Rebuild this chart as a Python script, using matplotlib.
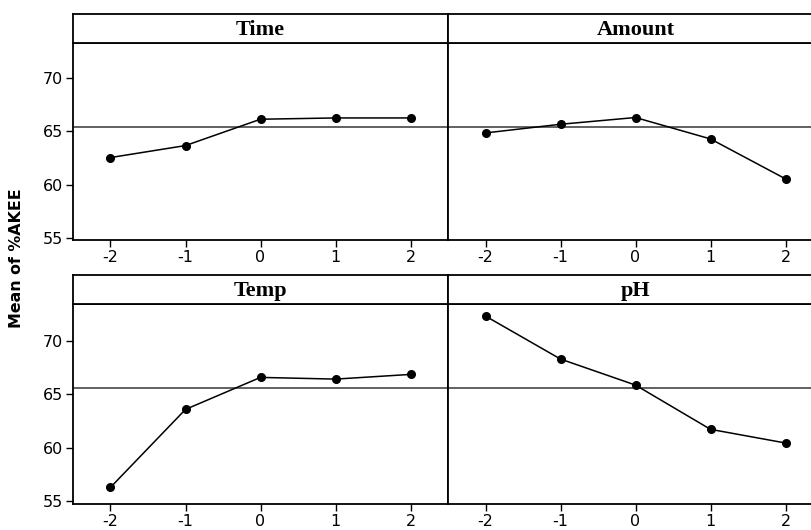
import numpy as np
import matplotlib.pyplot as plt
import matplotlib as mpl

levels = [-2, -1, 0, 1, 2]
time_mean = [62.54, 63.66, 66.12, 66.24, 66.24]
amount_mean = [64.84, 65.65, 66.28, 64.28, 60.55]
temp_mean = [56.28, 63.59, 66.59, 66.43, 66.87]
ph_mean = [72.34, 68.31, 65.87, 61.72, 60.44]
ref_top = 65.4
ref_bottom = 65.62
y_ticks = [55, 60, 65, 70]

W, H = 811, 530


def px_rect(x0, y0, x1, y1):
    # pixel box (from top-left) -> figure coords
    return [x0 / W, 1 - y1 / H, (x1 - x0) / W, (y1 - y0) / H]


def panel(fig, x0, x1, ys, title, values, ref, ylim, left):
    s0, s1, d1 = ys
    ax = fig.add_axes(px_rect(x0, s1, x1, d1))
    st = fig.add_axes(px_rect(x0, s0, x1, s1))

    ax.axhline(ref, color='#555555', lw=1.3, zorder=1)
    ax.plot(levels, values, color='black', lw=1.1, marker='o',
            markersize=5.5, zorder=3)
    ax.set_xlim(-2.5, 2.5)
    ax.set_ylim(*ylim)
    ax.set_xticks(levels)
    ax.set_xticklabels([str(v) for v in levels])
    ax.set_yticks(y_ticks)
    ax.tick_params(axis='both', direction='out', length=5, width=1,
                   labelsize=11.5, pad=2)
    if not left:
        ax.tick_params(axis='y', left=False, labelleft=False)
    for sp in ax.spines.values():
        sp.set_linewidth(1.3)

    st.set_xticks([])
    st.set_yticks([])
    for sp in st.spines.values():
        sp.set_linewidth(1.3)
    st.text(0.5, 0.45, title, ha='center', va='center',
            fontsize=16, fontweight='bold', family='Liberation Serif',
            transform=st.transAxes)
    return ax


fig = plt.figure(figsize=(W / 100, H / 100), dpi=100)

top_rows = (14, 43, 240)
bot_rows = (275, 303.7, 504)

panel(fig, 73, 448, top_rows, 'Time', time_mean, ref_top, (54.84, 73.24), True)
panel(fig, 448, 823, top_rows, 'Amount', amount_mean, ref_top, (54.84, 73.24), False)
panel(fig, 73, 448, bot_rows, 'Temp', temp_mean, ref_bottom, (54.72, 73.5), True)
panel(fig, 448, 823, bot_rows, 'pH', ph_mean, ref_bottom, (54.72, 73.5), False)

fig.text(17 / W, 1 - 258 / H, 'Mean of %AKEE', rotation=90, ha='center',
         va='center', fontsize=11.4, fontweight='bold', family='DejaVu Sans')

plt.savefig('out.png', dpi=100)
plt.close()
